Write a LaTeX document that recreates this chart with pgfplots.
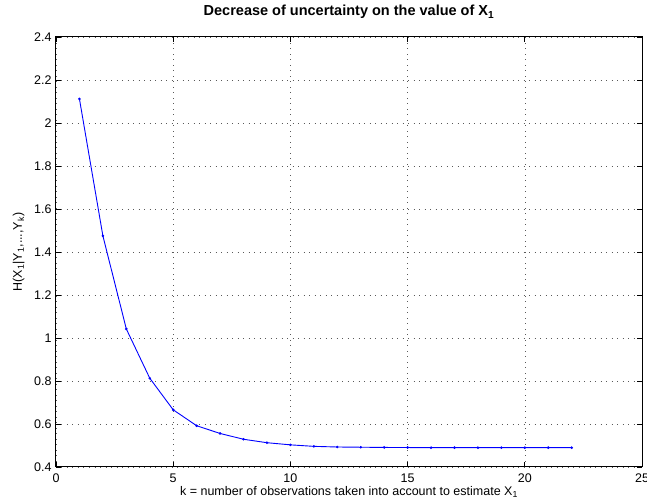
\documentclass[border=0pt]{standalone}
\usepackage{pgfplots}
\pgfplotsset{compat=1.18}
\usepackage{fontspec}
\setmainfont{Liberation Sans}

\begin{document}
\begin{tikzpicture}
\begin{axis}[
    at={(0pt,0pt)}, anchor=origin,
    scale only axis,
    width=586pt, height=430pt,
    xmin=0, xmax=25, ymin=0.4, ymax=2.4,
    xtick={0,5,...,25},
    ytick={0.4,0.6,...,2.41},
    yticklabel style={/pgf/number format/fixed, /pgf/number format/precision=1, xshift=-1pt},
    /pgf/number format/assume math mode=true,
    tick label style={font=\fontsize{12.5}{14}\selectfont},
    xticklabel style={yshift=-3pt},
    tick align=inside,
    major tick length=5pt,
    axis line style={black, line width=1pt},
    every tick/.style={black, line width=0.7pt},
    grid=major,
    major grid style={black!65, line width=0.6pt, dash pattern=on 0.7pt off 4.8pt},
    title={\bfseries Decrease of uncertainty on the value of X\textsubscript{1}},
    title style={font=\fontsize{14.5}{16}\selectfont, at={(axis description cs:0.5,1)}, anchor=base, yshift=15pt},
    xlabel={k = number of observations taken into account to estimate X\textsubscript{1}},
    xlabel style={font=\fontsize{12.5}{14}\selectfont, at={(axis description cs:0.5,0)}, anchor=base, yshift=-29pt},
    ylabel={H(X\textsubscript{1}|Y\textsubscript{1},...,Y\textsubscript{k})},
    ylabel style={font=\fontsize{12.5}{14}\selectfont, at={(axis description cs:0,0.5)}, anchor=base, rotate=0, yshift=34pt},
]
\addplot[blue, line width=0.9pt, mark=*, mark size=0.8pt] coordinates {
(1,2.112) (2,1.475) (3,1.042) (4,0.813) (5,0.666) (6,0.592) (7,0.556)
(8,0.529) (9,0.513) (10,0.503) (11,0.496) (12,0.493) (13,0.492)
(14,0.491) (15,0.4905) (16,0.490) (17,0.490) (18,0.490) (19,0.490)
(20,0.490) (21,0.490) (22,0.490)
};
\end{axis}
\pgfresetboundingbox
\path[use as bounding box] (-56pt,-35pt) rectangle (591pt,467pt);
\end{tikzpicture}
\end{document}
